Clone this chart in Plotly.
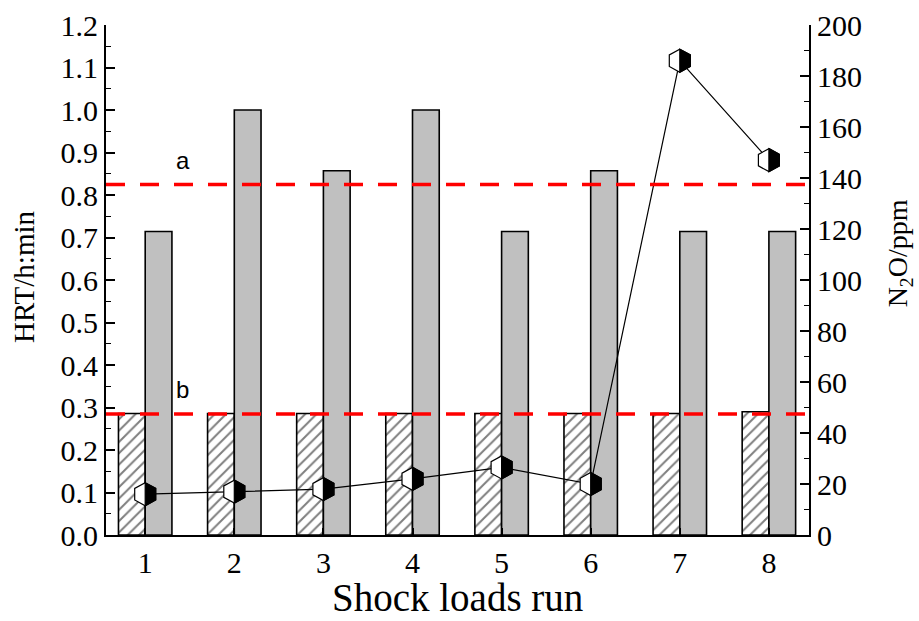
import plotly.graph_objects as go

runs = [1, 2, 3, 4, 5, 6, 7, 8]
hrt_low = [0.286, 0.286, 0.286, 0.286, 0.286, 0.286, 0.286, 0.290]
hrt_high = [0.714, 1.0, 0.857, 1.0, 0.714, 0.857, 0.714, 0.714]
n2o = [16.0, 17.0, 18.0, 22.0, 26.5, 20.0, 186.0, 147.0]
ref_lines = {"a": 0.825, "b": 0.285}
x_ticks = [1, 2, 3, 4, 5, 6, 7, 8]

SERIF = "Liberation Serif"
TICKFONT = dict(family=SERIF, size=30, color="black")
fig = go.Figure()

fig.add_trace(go.Bar(
    x=runs, y=hrt_low, yaxis="y", offsetgroup="low",
    marker=dict(color="white", line=dict(color="black", width=1.6),
                pattern=dict(shape="/", fgcolor="black", bgcolor="white",
                             size=8, solidity=0.25)),
    showlegend=False))
fig.add_trace(go.Bar(
    x=runs, y=hrt_high, yaxis="y", offsetgroup="high",
    marker=dict(color="#c0c0c0", line=dict(color="black", width=1.6)),
    showlegend=False))
fig.add_trace(go.Scatter(
    x=runs, y=n2o, yaxis="y2", mode="lines",
    line=dict(color="black", width=1.2), showlegend=False))

# reference dashed lines + labels
for lab, val in ref_lines.items():
    fig.add_shape(type="line", xref="paper", yref="y", x0=0, x1=1,
                  y0=val, y1=val, line=dict(color="#ff0000", width=3.5, dash="19px,15px"),
                  layer="above")
    fig.add_annotation(xref="x", yref="y", x=1.42, y=val, yshift=24, text=lab,
                       showarrow=False, font=dict(family="Liberation Sans", size=24, color="black"))

# half-filled hexagon markers
hx, hy = 10.5, 11.5
full = f"M0,{hy} L{hx},{hy/2} L{hx},{-hy/2} L0,{-hy} L{-hx},{-hy/2} L{-hx},{hy/2} Z"
half = f"M0,{hy} L{hx},{hy/2} L{hx},{-hy/2} L0,{-hy} Z"
for xv, yv in zip(runs, n2o):
    fig.add_shape(type="path", xref="x", yref="y2", xsizemode="pixel", ysizemode="pixel",
                  xanchor=xv, yanchor=yv, path=full, fillcolor="white",
                  line=dict(color="black", width=1.2), layer="above")
    fig.add_shape(type="path", xref="x", yref="y2", xsizemode="pixel", ysizemode="pixel",
                  xanchor=xv, yanchor=yv, path=half, fillcolor="black",
                  line=dict(color="black", width=1.2), layer="above")

# axis titles
fig.add_annotation(xref="paper", yref="paper", x=-0.1166, y=0.506, text="HRT/h:min",
                   textangle=-90, showarrow=False, xanchor="center", yanchor="middle",
                   font=dict(family=SERIF, size=29, color="black"))
fig.add_annotation(xref="paper", yref="paper", x=1.13, y=0.553, text="N<sub>2</sub>O/ppm",
                   textangle=-90, showarrow=False, xanchor="center", yanchor="middle",
                   font=dict(family=SERIF, size=28, color="black"))
fig.add_annotation(xref="paper", yref="paper", x=0.5, y=-0.122, text="Shock loads run",
                   showarrow=False, xanchor="center", yanchor="middle",
                   font=dict(family=SERIF, size=39, color="black"))

fig.update_layout(
    width=919, height=621,
    margin=dict(l=106, r=110, t=25, b=86, autoexpand=False),
    paper_bgcolor="white", plot_bgcolor="white",
    barmode="group", bargap=0.4, bargroupgap=0,
    font=dict(family=SERIF, color="black", size=30),
    xaxis=dict(range=[0.56, 8.45], tickvals=x_ticks, ticktext=[str(t) for t in x_ticks],
               showline=True, linecolor="black", linewidth=2, ticks="inside",
               ticklen=7, tickwidth=1.5, tickcolor="black", showgrid=False, zeroline=False,
               tickfont=TICKFONT, automargin=False),
    yaxis=dict(range=[0, 1.2], tickvals=[i / 10 for i in range(13)],
               ticktext=[f"{i/10:.1f}" for i in range(13)],
               showline=True, linecolor="black", linewidth=2, ticks="inside",
               ticklen=9, tickwidth=1.5, tickcolor="black", showgrid=False, zeroline=False,
               minor=dict(ticks="inside", ticklen=5, tickwidth=1.2, tickcolor="black", dtick=0.05),
               tickfont=TICKFONT, automargin=False),
    yaxis2=dict(range=[0, 200], overlaying="y", side="right", dtick=20,
                showline=True, linecolor="black", linewidth=2, ticks="inside",
                ticklen=9, tickwidth=1.5, tickcolor="black", showgrid=False, zeroline=False,
                minor=dict(ticks="inside", ticklen=5, tickwidth=1.2, tickcolor="black", dtick=10),
                tickfont=TICKFONT, automargin=False),
)

fig.write_html("out.html")
